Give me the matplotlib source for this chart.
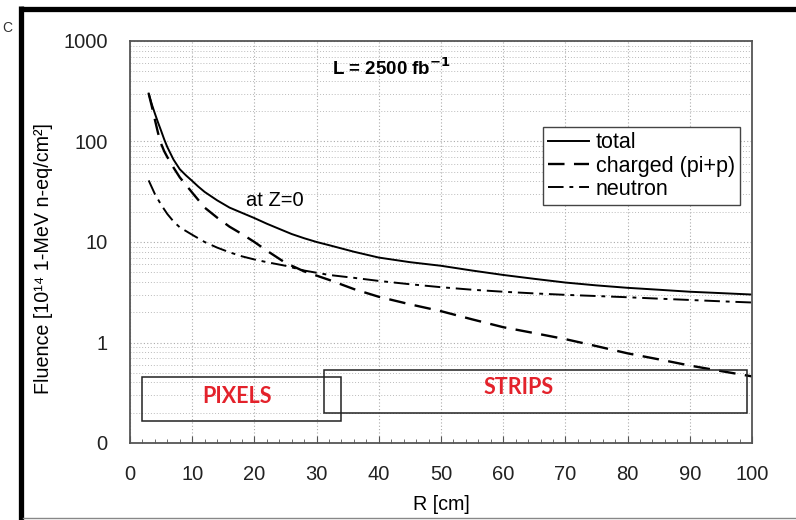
import matplotlib
matplotlib.use("Agg")
import matplotlib.pyplot as plt
from matplotlib.lines import Line2D
from matplotlib.patches import Rectangle
from matplotlib.ticker import FixedLocator, FixedFormatter, MultipleLocator, LogLocator, NullFormatter

# ---------------- data ----------------
r_total = [3, 3.5, 4, 4.5, 5, 5.5, 6, 7, 8, 9, 10, 11, 12, 14, 16, 18, 20, 22, 24, 26,
           28, 30, 32, 36, 40, 45, 50, 55, 60, 65, 70, 75, 80, 85, 90, 95, 100]
fluence_total = [300, 235, 190, 155, 128, 105, 88, 66, 53, 46, 40.5, 35.5, 31.5, 26, 22,
                 19.5, 17.3, 15.2, 13.5, 12.0, 10.9, 10.0, 9.3, 8.0, 7.0, 6.3, 5.8, 5.2,
                 4.7, 4.3, 3.95, 3.7, 3.5, 3.35, 3.2, 3.1, 3.0]

r_charged = [3, 3.5, 4, 4.5, 5, 5.5, 6, 7, 8, 10, 12, 14, 16, 18, 20, 22, 25, 28, 32,
             36, 40, 45, 50, 55, 60, 65, 70, 75, 80, 85, 90, 95, 100]
fluence_charged = [300, 225, 165, 122, 95, 80, 70, 55, 44, 31, 22, 17.5, 14.2, 12, 10,
                   8.2, 6.2, 5.1, 4.2, 3.4, 2.85, 2.4, 2.05, 1.7, 1.42, 1.24, 1.08,
                   0.92, 0.78, 0.68, 0.59, 0.52, 0.46]

r_neutron = [3, 4, 5, 6, 7, 8, 10, 12, 14, 16, 18, 20, 22, 25, 28, 32, 36, 40, 45, 50,
             55, 60, 65, 70, 75, 80, 85, 90, 95, 100]
fluence_neutron = [41, 30, 23.5, 19, 16, 14, 11.8, 10, 8.8, 7.9, 7.2, 6.7, 6.3, 5.8, 5.2,
                   4.7, 4.4, 4.1, 3.8, 3.55, 3.35, 3.2, 3.08, 2.98, 2.9, 2.82, 2.73,
                   2.65, 2.57, 2.5]

series_labels = ["total", "charged (pi+p)", "neutron"]

x_ticks = [0, 10, 20, 30, 40, 50, 60, 70, 80, 90, 100]
y_ticks = [0.1, 1, 10, 100, 1000]
y_tick_labels = ["0", "1", "10", "100", "1000"]

# region boxes: (R_min, R_max, F_min, F_max) and labels (text, R, F)
pixels_box = (1.9, 34.0, 0.166, 0.454)
pixels_text = ("PIXELS", 17.2, 0.29)
strips_box = (31.2, 99.2, 0.199, 0.532)
strips_text = ("STRIPS", 62.4, 0.355)

# ---------------- figure ----------------
plt.rcParams['font.family'] = ['Liberation Sans', 'DejaVu Sans']
fig = plt.figure(figsize=(7.96, 5.2), dpi=100)
ax = fig.add_axes([130/796, 1-443/520, 622/796, 402/520])

ax.set_yscale('log')
ax.set_xlim(0, 100)
ax.set_ylim(0.1, 1000)

ax.plot(r_total, fluence_total, color='black', lw=1.4, ls='-', label=series_labels[0])
ax.plot(r_charged, fluence_charged, color='black', lw=1.7, ls=(0, (7, 4)),
        label=series_labels[1])
ax.plot(r_neutron, fluence_neutron, color='black', lw=1.4, ls=(0, (8, 3, 2, 3)),
        label=series_labels[2])

# boxes
for (x0, x1, y0, y1) in (pixels_box, strips_box):
    ax.add_patch(Rectangle((x0, y0), x1 - x0, y1 - y0, fill=False,
                           edgecolor='#222222', lw=1.1, zorder=3))
for (txt, tx, ty) in (pixels_text, strips_text):
    ax.text(tx, ty, txt, color='#e3222b', fontsize=15.5, fontweight='bold',
            family=['Lato', 'DejaVu Sans'], ha='center', va='center')

# annotations
ax.text(42.1, 540, r'L = 2500 fb$^{\mathbf{-1}}$', fontsize=13.5, fontweight='bold',
        ha='center', va='center')
ax.text(23.3, 26, 'at Z=0', fontsize=14.5, ha='center', va='center')

# ticks & grid
ax.xaxis.set_major_locator(FixedLocator(x_ticks))
ax.xaxis.set_minor_locator(MultipleLocator(2))
ax.yaxis.set_major_locator(FixedLocator(y_ticks))
ax.yaxis.set_major_formatter(FixedFormatter(y_tick_labels))
ax.yaxis.set_minor_locator(LogLocator(base=10, subs=range(2, 10)))
ax.yaxis.set_minor_formatter(NullFormatter())
ax.tick_params(axis='x', which='major', direction='in', length=5, width=0.8,
               color='#555555', labelsize=14.5, pad=16)
ax.tick_params(axis='x', which='minor', direction='in', length=3, width=0.6,
               color='#555555')
ax.tick_params(axis='y', which='both', length=0, labelsize=14.5, pad=16)
ax.tick_params(axis='both', labelcolor='#222222')

ax.grid(True, which='major', axis='both', color='#aaaaaa', ls=(0, (1, 2)), lw=0.8)
ax.grid(True, which='minor', axis='y', color='#bbbbbb', ls=(0, (1, 2)), lw=0.7)
ax.set_axisbelow(True)

for s in ax.spines.values():
    s.set_color('#555555')
    s.set_linewidth(1.3)

ax.set_xlabel('R [cm]', fontsize=14.2)
ax.xaxis.set_label_coords(0.5, -0.13)
ax.set_ylabel('Fluence [10¹⁴ 1-MeV n-eq/cm²]', fontsize=14.2,
              family=['Liberation Sans', 'DejaVu Sans'])
ax.yaxis.set_label_coords(-0.124, 0.46)

leg = ax.legend(loc='upper left', bbox_to_anchor=(543/796, 1-127/520),
                bbox_transform=fig.transFigure, fontsize=15.5, frameon=True,
                fancybox=False, framealpha=1, edgecolor='#444444',
                handlelength=1.9, handletextpad=0.3, labelspacing=0.1,
                borderpad=0.25, borderaxespad=0)
leg.get_frame().set_linewidth(1.0)

# outer frame
fig.add_artist(Line2D([20.5/796, 1.0], [1-8.5/520, 1-8.5/520], color='black',
                      lw=3.8, transform=fig.transFigure, solid_capstyle='butt'))
fig.add_artist(Line2D([20.5/796, 20.5/796], [0, 1-6/520], color='black',
                      lw=3.8, transform=fig.transFigure, solid_capstyle='butt'))
fig.add_artist(Line2D([23/796, 1.0], [2/520, 2/520], color='#888888',
                      lw=1.0, transform=fig.transFigure))
fig.text(2/796, 1-28/520, 'C', fontsize=10, ha='left', va='center', color='#333333')

fig.savefig('out.png', dpi=100)
